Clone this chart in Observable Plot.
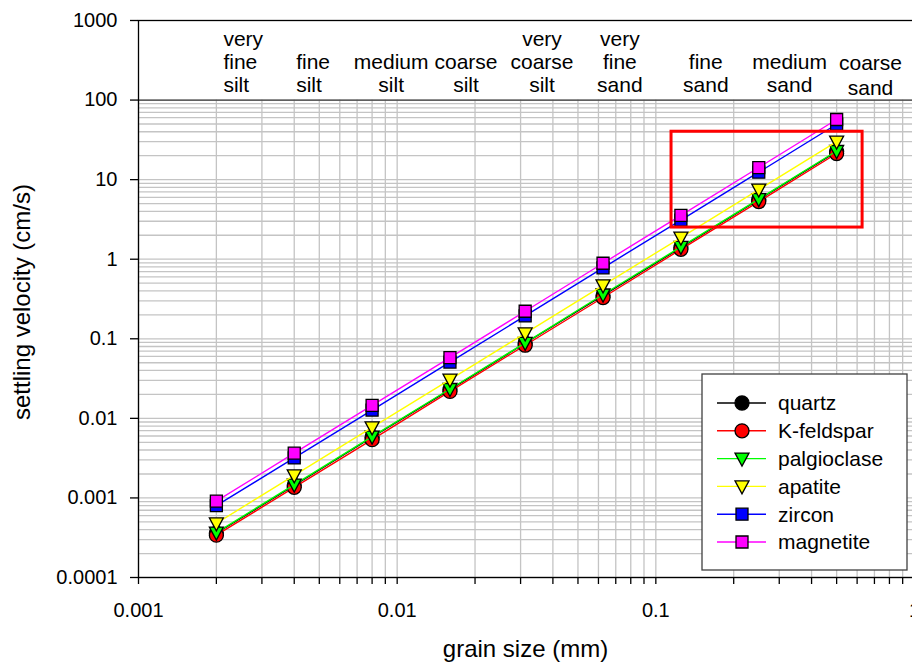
<!DOCTYPE html>
<html><head><meta charset="utf-8">
<script src="https://cdn.jsdelivr.net/npm/d3@7"></script>
<script src="https://cdn.jsdelivr.net/npm/@observablehq/plot@0.6"></script>
<style>
html,body{margin:0;padding:0;overflow:hidden;background:#fff;}
#chart{width:912px;height:671px;overflow:hidden;}
#chart svg{max-width:none !important;width:930px !important;height:671px !important;}
</style></head><body><div id="chart"></div>
<script>
// grain size (mm)
const grainSize = [0.002, 0.004, 0.008, 0.016, 0.03125, 0.0625, 0.125, 0.25, 0.5];
const minerals = ["quartz", "K-feldspar", "palgioclase", "apatite", "zircon", "magnetite"];
// settling velocity (cm/s)
const quartz      = [0.00036, 0.00144, 0.0058, 0.023, 0.088, 0.35, 1.40, 5.6, 22.5];
const kfeldspar   = [0.00034, 0.00136, 0.0054, 0.0218, 0.083, 0.33, 1.33, 5.3, 21.3];
const plagioclase = [0.000366, 0.00147, 0.0059, 0.0234, 0.089, 0.36, 1.43, 5.7, 22.9];
const apatite     = [0.00048, 0.00192, 0.0077, 0.0307, 0.117, 0.47, 1.87, 7.5, 30.0];
const zircon      = [0.0008, 0.00318, 0.0127, 0.051, 0.194, 0.78, 3.1, 12.4, 49.7];
const magnetite   = [0.00091, 0.00365, 0.0146, 0.058, 0.222, 0.89, 3.56, 14.2, 57.0];
const seriesValues = [quartz, kfeldspar, plagioclase, apatite, zircon, magnetite];
const colors = ["#000000", "#ff0000", "#00ff00", "#ffff00", "#0000ff", "#ff00ff"];
const shapes = ["circle", "circle", "triangleDown", "triangleDown", "square", "square"];

// grain size classes (label anchor in mm)
const classLabelsLeft = ["very\nfine\nsilt", "fine\nsilt"];
const classXLeft = [0.00213, 0.00407];
const classLabels = ["medium\nsilt", "coarse\nsilt", "very\ncoarse\nsilt", "very\nfine\nsand", "fine\nsand", "medium\nsand"];
const classX = [0.00948, 0.01846, 0.0363, 0.0726, 0.156, 0.329];
const classLabelsLast = ["coarse\nsand"];
const classXLast = [0.676];

// ticks
const xDecades = [0.001, 0.01, 0.1];
const xTickLabels = ["0.001", "0.01", "0.1", "1"];
const xTickValues = [0.001, 0.01, 0.1, 1];
const yTickValues = [0.0001, 0.001, 0.01, 0.1, 1, 10, 100, 1000];
const yTickLabels = ["0.0001", "0.001", "0.01", "0.1", "1", "10", "100", "1000"];
const yDecades = [0.0001, 0.001, 0.01, 0.1, 1, 10];
const multiples = [1, 2, 3, 4, 5, 6, 7, 8, 9];

// highlight box (mm, cm/s)
const boxX1 = [0.115], boxX2 = [0.63], boxY1 = [2.5], boxY2 = [40];

const xMinor = xDecades.flatMap(d => multiples.map(m => +(d * m).toPrecision(3))).concat([1]);
const yGrid = yDecades.flatMap(d => multiples.map(m => +(d * m).toPrecision(3))).concat([100]);

const rows = [];
minerals.forEach((m, i) => grainSize.forEach((g, j) => rows.push({mineral: m, size: g, v: seriesValues[i][j]})));

const symbols = {
  circle: {draw(ctx, size) { const r = 7; ctx.moveTo(r, 0); ctx.arc(0, 0, r, 0, 2 * Math.PI); ctx.closePath(); }},
  triangleDown: {draw(ctx, size) { ctx.moveTo(-7, -5.5); ctx.lineTo(7, -5.5); ctx.lineTo(0, 7.5); ctx.closePath(); }},
  square: {draw(ctx, size) { const h = 6; ctx.moveTo(-h, -h); ctx.lineTo(h, -h); ctx.lineTo(h, h); ctx.lineTo(-h, h); ctx.closePath(); }}
};

const xLabelMap = new Map(xTickValues.map((v, i) => [v, xTickLabels[i]]));
const yLabelMap = new Map(yTickValues.map((v, i) => [v, yTickLabels[i]]));

const seriesMarks = [];
minerals.forEach((m, i) => {
  const d = rows.filter(r => r.mineral === m);
  seriesMarks.push(Plot.line(d, {x: "size", y: "v", stroke: colors[i], strokeWidth: 1.4}));
  seriesMarks.push(Plot.dot(d, {x: "size", y: "v", symbol: symbols[shapes[i]], r: 7, fill: colors[i], stroke: "#000", strokeWidth: 1.3}));
});

const textCommon = {y: () => 100, fontSize: 21, lineHeight: 1.1, lineAnchor: "bottom", fill: "#000"};

const chart = Plot.plot({
  width: 930, height: 671,
  marginLeft: 138, marginRight: 16, marginTop: 20, marginBottom: 94,
  style: {fontFamily: "'Liberation Sans', Arial, sans-serif", color: "#000", background: "#fff", maxWidth: "none"},
  x: {type: "log", domain: [0.001, 1], label: null},
  y: {type: "log", domain: [0.0001, 1000], label: null},
  marks: [
    Plot.ruleY(yGrid, {stroke: "#c4c4c4", strokeWidth: 1.3}),
    Plot.ruleX(xMinor, {y1: 0.0001, y2: 100, stroke: "#c4c4c4", strokeWidth: 1.3}),
    Plot.ruleY([100], {stroke: "#3a3a3a", strokeWidth: 1.2}),
    Plot.frame({stroke: "#000", strokeWidth: 1.3}),
    Plot.axisX(xMinor, {tickSize: 7, tickFormat: () => "", label: null, strokeWidth: 1.3}),
    Plot.axisX(xTickValues, {tickSize: 0, tickPadding: 25, fontSize: 20, tickFormat: d => xLabelMap.get(d), label: null}),
    Plot.axisY(yTickValues, {tickSize: 8, tickPadding: 13, fontSize: 20, tickFormat: d => yLabelMap.get(d), label: null, strokeWidth: 1.3}),
    ...seriesMarks,
    Plot.text(classLabelsLeft, {...textCommon, x: (d, i) => classXLeft[i], text: d => d, textAnchor: "start", dy: -8}),
    Plot.text(classLabels, {...textCommon, x: (d, i) => classX[i], text: d => d, textAnchor: "middle", dy: -8}),
    Plot.text(classLabelsLast, {...textCommon, x: (d, i) => classXLast[i], text: d => d, textAnchor: "middle", dy: -5, lineHeight: 1.18}),
    Plot.rect(boxX1, {x1: (d, i) => boxX1[i], x2: (d, i) => boxX2[i], y1: (d, i) => boxY1[i], y2: (d, i) => boxY2[i], fill: "none", stroke: "#ff0000", strokeWidth: 3}),
    Plot.text(["grain size (mm)"], {frameAnchor: "bottom", textAnchor: "middle", lineAnchor: "middle", text: d => d, fontSize: 24, dy: 72, dx: -1}),
    Plot.text(["settling velocity (cm/s)"], {frameAnchor: "left", textAnchor: "middle", lineAnchor: "middle", text: d => d, fontSize: 24, rotate: -90, dx: -116, dy: 3})
  ]
});

// legend
const svg = d3.select(chart);
const lg = svg.append("g").attr("font-family", "'Liberation Sans', Arial, sans-serif").attr("font-size", 21).attr("text-anchor", "start");
lg.append("rect").attr("x", 702).attr("y", 374).attr("width", 205).attr("height", 196)
  .attr("fill", "#fff").attr("stroke", "#404040").attr("stroke-width", 1.3);
minerals.forEach((m, i) => {
  const cy = 403 + i * 27.8;
  lg.append("line").attr("x1", 717).attr("x2", 766).attr("y1", cy).attr("y2", cy)
    .attr("stroke", colors[i]).attr("stroke-width", 1.4);
  const p = d3.path();
  symbols[shapes[i]].draw(p, 0);
  lg.append("path").attr("d", p.toString()).attr("transform", `translate(742,${cy})`)
    .attr("fill", colors[i]).attr("stroke", "#000").attr("stroke-width", 1.3);
  lg.append("text").attr("x", 778).attr("y", cy).attr("dy", "0.35em").attr("fill", "#000").attr("text-anchor", "start").text(m);
});

document.getElementById("chart").appendChild(chart);
</script></body></html>
